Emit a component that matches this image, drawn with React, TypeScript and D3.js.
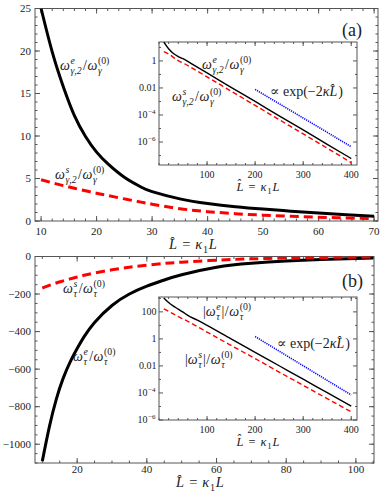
import React from 'react';
import * as d3 from 'd3';

const FONT = '"Liberation Serif", "DejaVu Serif", serif';
const FRAME = '#555';

// panel (a), main plot
const aL = [10, 12, 14, 16, 18, 20, 22, 25, 28, 30, 35, 40, 45, 50, 55, 60, 65, 70];
const aElec = [25, 19.9, 15.8, 12.4, 9.95, 8.1, 6.75, 5.15, 4.0, 3.45, 2.6, 2.05, 1.68, 1.4, 1.16, 0.94, 0.74, 0.55];
const aSurf = [4.85, 4.5, 4.16, 3.85, 3.55, 3.27, 3.0, 2.6, 2.22, 1.98, 1.45, 1.1, 0.86, 0.69, 0.56, 0.45, 0.36, 0.29];

// panel (a), log inset
const aiL = [10, 20, 30, 40, 50, 70, 100, 150, 200, 250, 300, 350, 400];
const aiElec = [25, 8, 3.5, 2.1, 1.45, 0.55, 0.129, 0.0112, 1.0e-3, 8.7e-5, 7.8e-6, 6.8e-7, 6.0e-8];
const aiSurf = [4.85, 3.27, 1.85, 1.05, 0.7, 0.28, 0.066, 5.8e-3, 5.1e-4, 4.5e-5, 4.0e-6, 3.5e-7, 3.0e-8];
const aiExpL = [200, 400];
const aiExp = [7.9e-3, 4.5e-7];

// panel (b), main plot
const bL = [10, 12, 14, 16, 18, 20, 22, 25, 30, 35, 40, 45, 50, 60, 70, 80, 90, 100, 105];
const bElec = [-1090, -909, -761, -648, -561, -490, -427, -351, -261, -200, -158, -125, -97, -57, -36, -24, -16, -10.5, -8.5];
const bSurf = [-168, -154, -141, -130, -119, -109, -100, -88, -71, -57, -46, -37, -30, -19.5, -12.6, -8.2, -5.3, -3.5, -2.8];

// panel (b), log inset
const biL = [10, 20, 30, 40, 50, 60, 80, 100, 150, 200, 250, 300, 350, 400];
const biElec = [1085, 490, 265, 160, 95, 55, 24, 10, 1.0, 0.102, 0.0103, 1.05e-3, 1.05e-4, 1.07e-5];
const biSurf = [168, 110, 70, 44, 30, 20, 8.1, 3.2, 0.33, 0.035, 3.5e-3, 3.7e-4, 3.8e-5, 4.0e-6];
const biExpL = [200, 400];
const biExp = [1.5, 7.1e-5];

// tick labels
const aXTicks = [10, 20, 30, 40, 50, 60, 70];
const aYTicks = [0, 5, 10, 15, 20, 25];
const bXTicks = [20, 40, 60, 80, 100];
const bYTicks = [0, -200, -400, -600, -800, -1000];
const insetXTicks = [100, 200, 300, 400];
const aiYTicks = [1e-6, 1e-4, 1e-2, 1];
const biYTicks = [1e-6, 1e-4, 1e-2, 1, 100];

let ctx: CanvasRenderingContext2D | null = null;
function tw(s: string, size: number, it = false) {
  if (!ctx) ctx = document.createElement('canvas').getContext('2d');
  if (!ctx) return s.length * size * 0.5;
  ctx.font = `${it ? 'italic ' : ''}${size}px ${FONT}`;
  return ctx.measureText(s).width;
}

type Tok = { t: string; it?: boolean; sup?: string; sub?: string; supIt?: boolean; subIt?: boolean; gap?: number };

function MathText({ x, y, toks, size = 14, anchor = 'start' }: { x: number; y: number; toks: Tok[]; size?: number; anchor?: string }) {
  const ss = size * 0.7;
  let cx = 0;
  const els: any[] = [];
  toks.forEach((k, i) => {
    cx += k.gap || 0;
    els.push(<text key={i + 'b'} x={cx} y={0} fontStyle={k.it ? 'italic' : 'normal'}>{k.t}</text>);
    cx += tw(k.t, size, k.it);
    let w = 0;
    if (k.sup) {
      els.push(<text key={i + 'p'} x={cx + 0.6} y={-size * 0.42} fontSize={ss} fontStyle={k.supIt ? 'italic' : 'normal'}>{k.sup}</text>);
      w = Math.max(w, tw(k.sup, ss, k.supIt));
    }
    if (k.sub) {
      els.push(<text key={i + 's'} x={cx + 0.6} y={size * 0.3} fontSize={ss} fontStyle={k.subIt ? 'italic' : 'normal'}>{k.sub}</text>);
      w = Math.max(w, tw(k.sub, ss, k.subIt));
    }
    if (w) cx += w + 1.5;
  });
  const ox = anchor === 'middle' ? x - cx / 2 : anchor === 'end' ? x - cx : x;
  return (
    <g transform={`translate(${ox},${y})`} fontFamily={FONT} fontSize={size} fill="#222">
      {els}
    </g>
  );
}

function range(a: number, b: number, step: number) {
  const r: number[] = [];
  for (let v = Math.ceil(a / step - 1e-9) * step; v <= b + 1e-9; v += step) r.push(+v.toFixed(8));
  return r;
}

function Frame({ x, y, xMaj, xMin, yMaj, yMin, maj, min, fill = 'none' }: any) {
  const [x0, x1] = x.range();
  const [y1, y0] = y.range();
  const segs: any[] = [];
  const add = (vals: number[], len: number, k: string) => {
    vals.forEach((v, i) => {
      const px = x(v);
      if (px < x0 - 0.1 || px > x1 + 0.1) return;
      segs.push(<line key={k + 'b' + i} x1={px} x2={px} y1={y1} y2={y1 - len} />);
      segs.push(<line key={k + 't' + i} x1={px} x2={px} y1={y0} y2={y0 + len} />);
    });
  };
  const addY = (vals: number[], len: number, k: string) => {
    vals.forEach((v, i) => {
      const py = y(v);
      if (py < y0 - 0.1 || py > y1 + 0.1) return;
      segs.push(<line key={k + 'l' + i} x1={x0} x2={x0 + len} y1={py} y2={py} />);
      segs.push(<line key={k + 'r' + i} x1={x1} x2={x1 - len} y1={py} y2={py} />);
    });
  };
  add(xMaj, maj, 'M');
  add(xMin, min, 'm');
  addY(yMaj, maj, 'M');
  addY(yMin, min, 'm');
  return (
    <g stroke={FRAME} strokeWidth={1} fill="none">
      <rect x={x0} y={y0} width={x1 - x0} height={y1 - y0} fill={fill} />
      {segs}
    </g>
  );
}

const hatL = 'L\u0302';
const axisTitle: Tok[] = [{ t: hatL, it: true }, { t: '=', gap: 5 }, { t: '\u03ba', it: true, sub: '1', gap: 5 }, { t: 'L', it: true }];
const omegaRatio = (e: string, sub: string, abs = false): Tok[] => [
  ...(abs ? [{ t: '|' }] : []),
  { t: '\u03c9', it: true, sup: e, supIt: true, sub, subIt: true },
  ...(abs ? [{ t: '|' }] : []),
  { t: '/', gap: 0.5 },
  { t: '\u03c9', it: true, sup: '(0)', sub: sub.split(',')[0], subIt: true, gap: 0.5 },
];
const expTok: Tok[] = [{ t: '\u221d exp(\u22122' }, { t: '\u03ba', it: true }, { t: hatL, it: true }, { t: ')', gap: 1 }];

function logLabel(v: number, x: number, y: number, key: string) {
  const e = Math.round(Math.log10(v));
  if (e >= -2) {
    const s = e >= 0 ? String(10 ** e) : e === -1 ? '0.1' : '0.01';
    return <text key={key} x={x} y={y} textAnchor="end" fontFamily={FONT} fontSize={10} fill="#222">{s}</text>;
  }
  return <MathText key={key} x={x} y={y} size={10} anchor="end" toks={[{ t: '10', sup: '\u2212' + -e }]} />;
}

export default function App() {
  const ax = d3.scaleLinear().domain([8.9, 70.7]).range([35, 378]);
  const ay = d3.scaleLinear().domain([0, 25]).range([221, 8.5]);
  const aix = d3.scaleLinear().domain([0, 412]).range([159, 357]);
  const aiy = d3.scaleLog().domain([10 ** -7.7, 10 ** 1.4]).range([165, 42]);
  const bx = d3.scaleLinear().domain([7.9, 105.2]).range([35, 374]);
  const by = d3.scaleLinear().domain([-1100, 0]).range([463, 256.5]);
  const bix = d3.scaleLinear().domain([0, 412]).range([159, 357]);
  const biy = d3.scaleLog().domain([1e-6, 10 ** 3.1]).range([420, 297]);

  const path = (xs: number[], ys: number[], sx: any, sy: any, curve: any = d3.curveMonotoneX) =>
    d3.line<number>().x((_, i) => sx(xs[i])).y((d) => sy(d)).curve(curve)(ys) || '';

  const clipRect = (id: string, sx: any, sy: any) => {
    const [x0, x1] = sx.range();
    const [y1, y0] = sy.range();
    return (
      <clipPath id={id}>
        <rect x={x0} y={y0} width={x1 - x0} height={y1 - y0} />
      </clipPath>
    );
  };

  const inset = (sx: any, sy: any, id: string, L: number[], el: number[], su: number[], eL: number[], ex: number[], yT: number[], yMin: number[]) => (
    <g>
      <Frame x={sx} y={sy} xMaj={insetXTicks} xMin={range(0, 412, 20)} yMaj={yT} yMin={yMin} maj={4} min={2} fill="#fff" />
      <g clipPath={`url(#${id})`} fill="none">
        <path d={path(L, el, sx, sy)} stroke="#000" strokeWidth={1.4} />
        <path d={path(L, su, sx, sy)} stroke="#f00" strokeWidth={1.4} strokeDasharray="5,3" />
        <path d={path(eL, ex, sx, sy)} stroke="#00f" strokeWidth={1.6} strokeDasharray="1.2,1" />
      </g>
      {insetXTicks.map((t) => (
        <text key={t} x={sx(t)} y={sy.range()[0] + 12.5} textAnchor="middle" fontFamily={FONT} fontSize={10} fill="#222">{t}</text>
      ))}
      {yT.map((t, i) => logLabel(t, sx.range()[0] - 2.5, sy(t) + 3.4, id + 'y' + i))}
      <MathText x={(sx.range()[0] + sx.range()[1]) / 2} y={sy.range()[0] + 25.5} toks={axisTitle} size={12.5} anchor="middle" />
    </g>
  );

  return (
    <div style={{ position: 'absolute', left: 0, top: 0 }}>
      <svg width={382} height={493} viewBox="0 0 382 493" style={{ display: 'block', background: '#fff' }}>
        <defs>
          {clipRect('ca', ax, ay)}
          {clipRect('cai', aix, aiy)}
          {clipRect('cb', bx, by)}
          {clipRect('cbi', bix, biy)}
        </defs>

        {/* panel (a) */}
        <Frame x={ax} y={ay} xMaj={aXTicks} xMin={range(8.9, 70.7, 2)} yMaj={aYTicks} yMin={range(0, 25, 1)} maj={5} min={2.5} />
        <g clipPath="url(#ca)" fill="none">
          <path d={path(aL, aElec, ax, ay, d3.curveNatural)} stroke="#000" strokeWidth={3} />
          <path d={path(aL, aSurf, ax, ay, d3.curveNatural)} stroke="#f00" strokeWidth={3} strokeDasharray="9,5" />
        </g>
        {aXTicks.map((t) => (
          <text key={t} x={ax(t)} y={235} textAnchor="middle" fontFamily={FONT} fontSize={11} fill="#222">{t}</text>
        ))}
        {aYTicks.map((t) => (
          <text key={t} x={31} y={ay(t) + 3.8} textAnchor="end" fontFamily={FONT} fontSize={11} fill="#222">{t}</text>
        ))}
        <MathText x={193} y={249} toks={axisTitle} size={14.5} anchor="middle" />
        <MathText x={60} y={70} toks={omegaRatio('e', '\u03b3,2')} />
        <MathText x={55} y={179} toks={omegaRatio('s', '\u03b3,2')} />
        <text x={342} y={36} fontFamily={FONT} fontSize={18} fill="#222">(a)</text>
        {inset(aix, aiy, 'cai', aiL, aiElec, aiSurf, aiExpL, aiExp, aiYTicks, [1e-7, 1e-5, 1e-3, 0.1, 10])}
        <MathText x={202} y={69} toks={omegaRatio('e', '\u03b3,2')} />
        <MathText x={172} y={101} toks={omegaRatio('s', '\u03b3,2')} />
        <MathText x={270} y={96} toks={expTok} />

        {/* panel (b) */}
        <Frame x={bx} y={by} xMaj={bXTicks} xMin={range(7.9, 105.2, 5)} yMaj={bYTicks} yMin={range(-1100, 0, 50)} maj={5} min={2.5} />
        <g clipPath="url(#cb)" fill="none">
          <path d={path(bL, bElec, bx, by, d3.curveNatural)} stroke="#000" strokeWidth={3} />
          <path d={path(bL, bSurf, bx, by, d3.curveNatural)} stroke="#f00" strokeWidth={3} strokeDasharray="9,5" />
        </g>
        {bXTicks.map((t) => (
          <text key={t} x={bx(t)} y={473} textAnchor="middle" fontFamily={FONT} fontSize={11} fill="#222">{t}</text>
        ))}
        {bYTicks.map((t) => (
          <text key={t} x={31} y={by(t) + 3.8} textAnchor="end" fontFamily={FONT} fontSize={11} fill="#222">{t < 0 ? '\u2212' + -t : t}</text>
        ))}
        <MathText x={200} y={487} toks={axisTitle} size={14.5} anchor="middle" />
        <MathText x={63} y={293} toks={omegaRatio('s', '\u03c4')} />
        <MathText x={73} y={361} toks={omegaRatio('e', '\u03c4')} />
        <text x={342} y={287} fontFamily={FONT} fontSize={18} fill="#222">(b)</text>
        {inset(bix, biy, 'cbi', biL, biElec, biSurf, biExpL, biExp, biYTicks, [1e-5, 1e-3, 0.1, 10, 1000])}
        <MathText x={203} y={316} toks={omegaRatio('e', '\u03c4', true)} />
        <MathText x={185} y={364} toks={omegaRatio('s', '\u03c4', true)} />
        <MathText x={277} y={348} toks={expTok} />
      </svg>
    </div>
  );
}
